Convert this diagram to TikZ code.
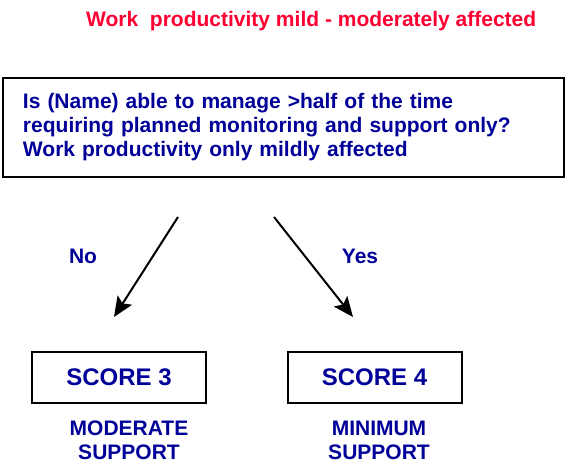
\documentclass[tikz,border=0pt]{standalone}
\usepackage{fontspec}
\setmainfont{Liberation Sans}
\usetikzlibrary{arrows.meta}
\definecolor{navy}{RGB}{0,0,153}
\definecolor{titlered}{RGB}{255,0,51}
\begin{document}
\begin{tikzpicture}[x=1pt,y=-1pt,>={Stealth[length=20pt,width=17pt,inset=4pt]},
  every node/.style={font=\fontsize{21}{24}\selectfont\bfseries,text=navy},
  scorebox/.style={draw=black,line width=2pt,minimum width=174pt,minimum height=51pt,inner sep=0pt,
    font=\fontsize{24}{28}\selectfont\bfseries}]
\useasboundingbox (0,0) rectangle (565,467);
\node[text=titlered,anchor=west,inner sep=0pt] (title) at (86,21) {Work\ \ productivity mild - moderately affected};
\node[draw=black,line width=2.2pt,minimum width=561pt,minimum height=99pt,text width=521pt,align=left,inner sep=0pt] (question) at (283.5,127.5)
  {Is (Name) able to manage >half of the time\\requiring planned monitoring and support only?\\Work productivity only mildly affected};
\coordinate (noStart) at (178,217);
\coordinate (noEnd) at (114,317);
\coordinate (yesStart) at (274,217);
\coordinate (yesEnd) at (353,317);
\draw[->,line width=2pt] (noStart)--(noEnd);
\draw[->,line width=2pt] (yesStart)--(yesEnd);
\node (no) at (83,256) {No};
\node (yes) at (360,256) {Yes};
\node[scorebox] (score3) at (119,377.5) {SCORE 3};
\node[scorebox] (score4) at (374.5,377.5) {SCORE 4};
\node[align=center,inner sep=0pt] (moderate) at (129,440) {MODERATE\\SUPPORT};
\node[align=center,inner sep=0pt] (minimum) at (379,440) {MINIMUM\\SUPPORT};
\end{tikzpicture}
\end{document}
